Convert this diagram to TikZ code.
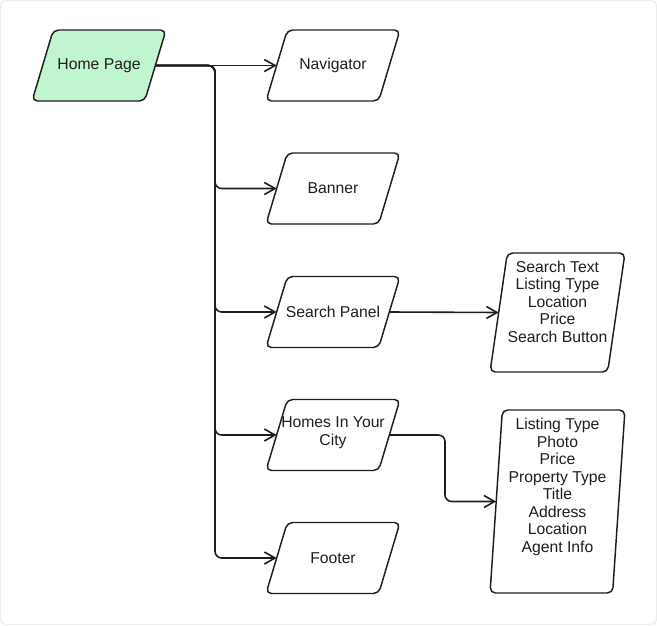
\documentclass[tikz,border=0pt]{standalone}
\usepackage{fontspec}
\setmainfont{Liberation Sans}
\usetikzlibrary{shapes.geometric,arrows.meta}
\definecolor{ink}{HTML}{1E1E1E}
\definecolor{hpgreen}{HTML}{C0F5CF}
\begin{document}
\begin{tikzpicture}[x=0.75pt,y=-0.75pt,
  pg/.style={shape=trapezium, trapezium stretches=true, draw=ink, line width=1.1pt,
    rounded corners=4pt, inner sep=0pt, outer sep=0pt},
  stdbox/.style={pg, trapezium left angle=77.3, trapezium right angle=102.7,
    minimum width=100.5pt, minimum height=53.25pt},
  txt/.style={text=ink, font=\fontsize{11.8}{13.1}\selectfont, align=center, inner sep=0pt},
  conn/.style={draw=ink, line width=1.2pt, rounded corners=5pt,
    -{Straight Barb[length=8pt,width=9pt]}}]
\useasboundingbox (0,0) rectangle (657,625);
\draw[gray!15, line width=1pt, rounded corners=4pt] (0.5,0.5) rectangle (656.5,624.5);

% shapes
\node[stdbox, fill=hpgreen] (hp) at (99,65.5) {\phantom{X}};
\node[stdbox] (nav) at (333,65.5) {\phantom{X}};
\node[stdbox] (ban) at (333,188.5) {\phantom{X}};
\node[stdbox] (sp) at (333,312) {\phantom{X}};
\node[stdbox] (hc) at (333,435) {\phantom{X}};
\node[stdbox] (ft) at (333,558) {\phantom{X}};
\node[pg, trapezium left angle=80.5, trapezium right angle=99.5,
  minimum width=101.25pt, minimum height=89.25pt] (st) at (557.5,312.5) {\phantom{X}};
\node[pg, trapezium left angle=83.8, trapezium right angle=96.2,
  minimum width=101.25pt, minimum height=137.25pt] (lt) at (557.5,501.5) {\phantom{X}};

% texts
\node[txt] (hpt) at (hp) {Home Page};
\node[txt] (navt) at (nav) {Navigator};
\node[txt] (bant) at (ban) {Banner};
\node[txt] (spt) at (sp) {Search Panel};
\node[txt, yshift=1.8pt] (hct) at (hc) {Homes In Your\\City};
\node[txt] (ftt) at (ft) {Footer};
\node[txt, yshift=8.2pt] (stt) at (st) {Search Text\\Listing Type\\Location\\Price\\Search Button};
\node[txt, yshift=11pt] (ltt) at (lt) {Listing Type\\Photo\\Price\\Property Type\\Title\\Address\\Location\\Agent Info};

% connectors
\coordinate (jx) at (215,0);
\coordinate (lx) at (445,0);
\draw[conn] (hp.east) -- (nav.west);
\draw[conn] (hp.east) -- (jx |- hp.east) -- (jx |- ban.west) -- (ban.west);
\draw[conn] (hp.east) -- (jx |- hp.east) -- (jx |- sp.west) -- (sp.west);
\draw[conn] (hp.east) -- (jx |- hp.east) -- (jx |- hc.west) -- (hc.west);
\draw[conn] (hp.east) -- (jx |- hp.east) -- (jx |- ft.west) -- (ft.west);
\draw[conn] (sp.east) -- (st.west);
\draw[conn] (hc.east) -- (lx |- hc.east) -- (lx |- lt.west) -- (lt.west);
\end{tikzpicture}
\end{document}
